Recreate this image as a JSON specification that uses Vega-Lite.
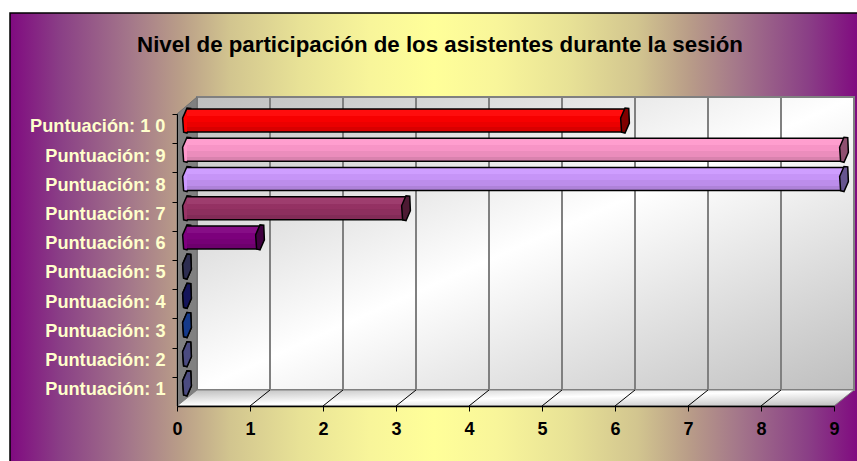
{
"$schema":"https://vega.github.io/schema/vega-lite/v6.json",
"width":848,"height":460,
"autosize":{"type":"none"},
"padding":{"left":10,"top":13,"right":0,"bottom":0},
"background":"white",
"title":{"text":"Nivel de participación de los asistentes durante la sesión","orient":"top","anchor":"middle","offset":-43,"dx":6,"font":"Liberation Sans","fontSize":22.3,"fontWeight":"bold","color":"#000000"},
"config":{"view":{"fill":{"gradient":"linear","x1":0,"y1":0,"x2":1,"y2":0,"stops":[{"offset":0,"color":"#800A80"},{"offset":0.059,"color":"#8A3F86"},{"offset":0.1415,"color":"#A4778A"},{"offset":0.2,"color":"#B99D88"},{"offset":0.26,"color":"#D2C58F"},{"offset":0.342,"color":"#E8E296"},{"offset":0.425,"color":"#F8F59A"},{"offset":0.5,"color":"#FFFF99"},{"offset":0.575,"color":"#F8F59A"},{"offset":0.658,"color":"#E8E296"},{"offset":0.74,"color":"#D2C58F"},{"offset":0.8,"color":"#B99D88"},{"offset":0.8585,"color":"#A4778A"},{"offset":0.941,"color":"#8A3F86"},{"offset":1,"color":"#800A80"}]},"stroke":"#000000","strokeWidth":1.5}},
"datasets":{
"barras":[{"nivel":10,"valor":6},{"nivel":9,"valor":9},{"nivel":8,"valor":9},{"nivel":7,"valor":3},{"nivel":6,"valor":1},{"nivel":5,"valor":0},{"nivel":4,"valor":0},{"nivel":3,"valor":0},{"nivel":2,"valor":0},{"nivel":1,"valor":0}],
"lateral":[{"x":0,"y":10.226,"y2":0.226},{"x":0.274,"y":10.808,"y2":0.774}],
"suelo":[{"x":0,"y":0.226,"y2":0.226},{"x":0.274,"y":0.774,"y2":0.226},{"x":9,"y":0.774,"y2":0.226},{"x":9.274,"y":0.774,"y2":0.774}],
"rejilla":[{"v":1},{"v":2},{"v":3},{"v":4},{"v":5},{"v":6},{"v":7},{"v":8}]
},
"data":{"name":"barras"},
"layer":[
{"data":{"values":[{"a":0.274,"b":9.274,"c":0.774,"d":10.808}]},
 "mark":{"type":"rect","stroke":"#808080","strokeWidth":2,"fill":{"gradient":"linear","x1":0,"y1":0,"x2":1,"y2":1,"stops":[{"offset":0,"color":"#BEBEBE"},{"offset":0.5,"color":"#FFFFFF"},{"offset":1,"color":"#BEBEBE"}]}},
 "encoding":{"x":{"field":"a","type":"quantitative","scale":{"domain":[0,9],"range":[167,824],"nice":false,"zero":false,"padding":0},
   "axis":{"values":[0,1,2,3,4,5,6,7,8,9],"orient":"bottom","offset":-67,"title":null,"grid":false,"domainColor":"#000000","domainWidth":1.5,"tickColor":"#000000","tickSize":5,"labelPadding":9,"labelColor":"#000000","labelFont":"Liberation Sans","labelFontSize":18,"labelFontWeight":"bold","labelFlush":false,"labelOverlap":false,"format":"d","zindex":1}},
  "x2":{"field":"b"},
  "y":{"field":"c","type":"quantitative","scale":{"domain":[0.226,10.226],"range":[393,101],"nice":false,"zero":false,"padding":0},
   "axis":{"values":[1,2,3,4,5,6,7,8,9,10],"orient":"left","offset":-167,"title":null,"grid":false,"domainColor":"#000000","domainWidth":1,"tickColor":"#000000","tickSize":5,"tickOffset":-6.6,"labelOffset":13,"labelPadding":7,"labelColor":"#FFFFCC","labelFont":"Liberation Sans","labelFontSize":18.2,"labelFontWeight":"bold","labelOverlap":false,"labelExpr":"datum.value == 10 ? 'Puntuación: 1 0' : 'Puntuación: ' + datum.value","zindex":1}},
  "y2":{"field":"d"}}},
{"data":{"name":"rejilla"},"mark":{"type":"rule","color":"#808080","strokeWidth":2,"xOffset":20,"x2Offset":20},
 "encoding":{"x":{"field":"v","type":"quantitative"},"y":{"datum":0.774},"y2":{"datum":10.808}}},
{"data":{"name":"lateral"},"mark":{"type":"area","orient":"vertical","fill":"#808080","stroke":"#707070"},
 "encoding":{"x":{"field":"x","type":"quantitative"},"y":{"field":"y","type":"quantitative"},"y2":{"field":"y2"}}},
{"data":{"name":"suelo"},"mark":{"type":"area","orient":"vertical","stroke":"#808080","fill":{"gradient":"linear","x1":0,"y1":0,"x2":1,"y2":1,"stops":[{"offset":0,"color":"#BEBEBE"},{"offset":0.5,"color":"#FFFFFF"},{"offset":1,"color":"#BEBEBE"}]}},
 "encoding":{"x":{"field":"x","type":"quantitative"},"y":{"field":"y","type":"quantitative"},"y2":{"field":"y2"}}},
{"data":{"name":"rejilla"},"mark":{"type":"rule","color":"#000000","strokeWidth":1,"x2Offset":20},
 "encoding":{"x":{"field":"v","type":"quantitative"},"x2":{"field":"v"},"y":{"datum":0.226},"y2":{"datum":0.774}}},
{"mark":{"type":"point","filled":false,"shape":"M-0.35,-0.2L0,-1L0.3,-0.97L0.35,0.2L0,1L-0.27,0.93Z","size":625,"opacity":1,"stroke":"#000000","strokeWidth":1.5,"xOffset":10},
 "encoding":{"x":{"datum":0},"y":{"field":"nivel","type":"quantitative"},
  "fill":{"field":"nivel","type":"ordinal","legend":null,"scale":{"domain":[1,2,3,4,5,6,7,8,9,10],"range":["#666699","#666699","#003399","#000080","#333366","#800080","#993366","#CC99FF","#FF99CC","#FF0000"]}}}},
{"mark":{"type":"bar","orient":"horizontal","size":23,"xOffset":10,"x2Offset":10},
 "encoding":{"x":{"field":"valor","type":"quantitative"},"x2":{"datum":0},"y":{"field":"nivel","type":"quantitative"},
  "color":{"field":"nivel","type":"ordinal","legend":null,"scale":{"domain":[1,2,3,4,5,6,7,8,9,10],"range":["#666699","#666699","#003399","#000080","#333366","#800080","#993366","#CC99FF","#FF99CC","#FF0000"]}}}},
{"mark":{"type":"bar","orient":"horizontal","size":23,"xOffset":10,"x2Offset":10,"fill":{"gradient":"linear","x1":0,"y1":0,"x2":0,"y2":1,"stops":[{"offset":0,"color":"rgba(255,255,255,0.05)"},{"offset":0.3,"color":"rgba(255,255,255,0.05)"},{"offset":0.3,"color":"rgba(0,0,0,0.03)"},{"offset":0.55,"color":"rgba(0,0,0,0.03)"},{"offset":0.55,"color":"rgba(0,0,0,0.08)"},{"offset":0.8,"color":"rgba(0,0,0,0.08)"},{"offset":0.8,"color":"rgba(0,0,0,0.15)"},{"offset":1,"color":"rgba(0,0,0,0.15)"}]}},
 "encoding":{"x":{"field":"valor","type":"quantitative"},"x2":{"datum":0},"y":{"field":"nivel","type":"quantitative"}}},
{"mark":{"type":"rule","color":"#000000","strokeWidth":1.5,"xOffset":10,"x2Offset":10,"yOffset":-11.5},
 "encoding":{"x":{"field":"valor","type":"quantitative"},"x2":{"datum":0},"y":{"field":"nivel","type":"quantitative"}}},
{"mark":{"type":"rule","color":"#000000","strokeWidth":1.5,"xOffset":10,"x2Offset":10,"yOffset":11.5},
 "encoding":{"x":{"field":"valor","type":"quantitative"},"x2":{"datum":0},"y":{"field":"nivel","type":"quantitative"}}},
{"mark":{"type":"point","filled":false,"shape":"M-0.35,-0.2L0,-1L0.3,-0.97L0.35,0.2L0,1L-0.27,0.93Z","size":625,"opacity":1,"stroke":"#000000","strokeWidth":1.5,"xOffset":10},
 "encoding":{"x":{"field":"valor","type":"quantitative"},"y":{"field":"nivel","type":"quantitative"},
  "fill":{"field":"nivel","type":"ordinal","legend":null,"scale":{"domain":[1,2,3,4,5,6,7,8,9,10],"range":["#4B4B80","#4B4B80","#153A8A","#15155A","#2D2D50","#400040","#4D1A33","#66558F","#8F5070","#800000"]}}}}
],
"resolve":{"scale":{"fill":"independent"}}
}
